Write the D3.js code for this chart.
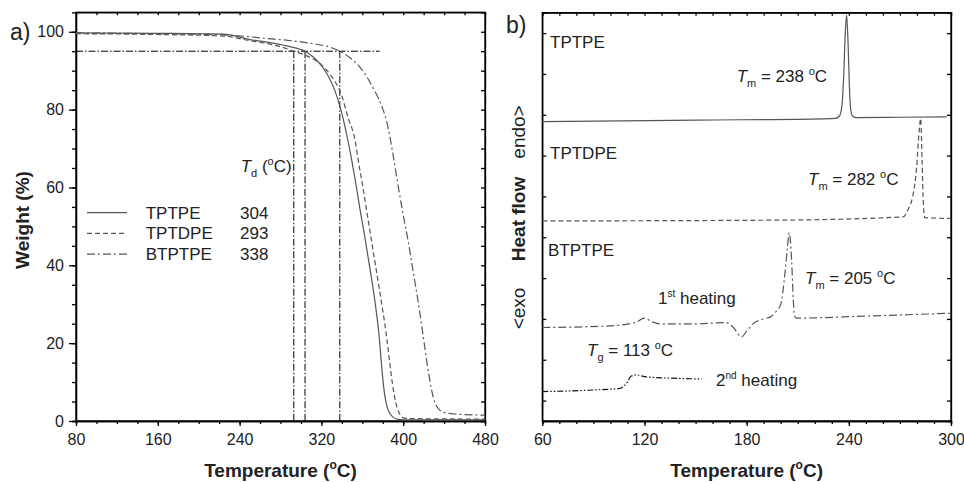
<!DOCTYPE html>
<html>
<head>
<meta charset="utf-8">
<script src="https://cdn.jsdelivr.net/npm/d3@7/dist/d3.min.js"></script>
<style>
  body { margin: 0; background: #fff; }
  svg { font-family: "Liberation Sans", Arial, sans-serif; }
  .axis path, .axis line { stroke: #000; stroke-width: 1.3; }
  .axis text { font-size: 16px; fill: #222; }
</style>
</head>
<body>
<div class="board"></div>
<script>
// TGA curves, [temperature, weight %]
var tgaTPTPE = [[80,99.7],[160,99.6],[224,99.4],[250,98.0],[265,97.4],[282,96.6],[299,95.5],[304,95],[312,93.5],[320,91.3],[327,88.5],[333,85],[339,80],[346,72],[350,66.5],[354,60.5],[358,54],[362,48],[366,41.5],[370,35],[373,29.5],[376,23],[378,17],[380,11],[382,6.5],[385,3],[390,1],[395,0.4],[400,0.3],[440,0.3],[480,0.3]];
var tgaTPTDPE = [[80,99.5],[160,99.3],[224,98.9],[250,97.7],[266,97],[282,96],[293,95],[304,94],[320,91.5],[330,88.5],[340,83.5],[346,78],[353,72],[356,67],[360,61],[364,54.5],[368,48],[372,41.5],[376,35],[379,30],[382,25],[385,19],[388,12.5],[391,7],[394,3.5],[397,1.6],[400,0.8],[410,0.6],[480,0.5]];
var tgaBTPTPE = [[80,99.7],[160,99.5],[224,99.2],[266,98.3],[300,97.4],[315,96.8],[330,95.9],[338,95],[348,93.3],[358,90.8],[365,88.2],[371,85.3],[376,82.8],[380,80.2],[384,76.8],[387,73],[390,68.5],[395,60.5],[400,53],[405,46],[410,38],[415,30],[420,21],[425,12],[430,5.5],[435,3],[440,2.2],[450,1.8],[480,1.5]];
var tgaNames = ['TPTPE', 'TPTDPE', 'BTPTPE'];
var tdValues = [304, 293, 338];
var tdLevel = 95;

// DSC curves, [temperature, heat flow (a.u.)]
var dscTPTPE = [[60,7.33],[150,7.37],[225,7.40],[232,7.41],[234.5,7.47],[236,7.74],[237,8.47],[238,9.58],[238.7,9.94],[239.5,9.33],[240.3,8.23],[241,7.67],[242,7.48],[244,7.43],[270,7.44],[297.5,7.45]];
var dscTPTDPE = [[60,4.90],[200,4.92],[272,5.0],[275,5.2],[277.5,5.5],[279.8,6.2],[281.3,7.1],[282.2,7.41],[283,6.4],[283.8,5.3],[284.6,4.98],[300,4.96]];
var dscBTPTPE1 = [[60,2.29],[100,2.33],[115,2.42],[120,2.52],[124,2.44],[129,2.38],[150,2.38],[168,2.41],[172,2.3],[177,2.06],[180,2.2],[184,2.39],[190,2.5],[194,2.55],[198,2.72],[200,2.85],[202.5,3.62],[203.8,4.19],[205,4.61],[206.4,3.94],[207.4,2.96],[208,2.6],[209,2.52],[210,2.52],[250,2.57],[300,2.64]];
var dscBTPTPE2 = [[60,0.72],[90,0.76],[105.5,0.80],[109.4,0.92],[112.3,1.10],[115.2,1.13],[121,1.08],[153.6,1.03]];

var leftTicks = [80, 160, 240, 320, 400, 480];
var weightTicks = [0, 20, 40, 60, 80, 100];
var rightTicks = [60, 120, 180, 240, 300];

var svg = d3.select('.board').append('svg')
  .attr('width', 964)
  .attr('height', 482);

var grey = '#555';
var dashes = ['none', '5,3', '8,3,2,3'];

// ---------- panel a) ----------
var xL = d3.scaleLinear().domain([80, 480]).range([76, 485]);
var yL = d3.scaleLinear().domain([0, 105]).range([421, 12.3]);

svg.append('rect')
  .attr('x', xL(80)).attr('y', yL(105))
  .attr('width', xL(480) - xL(80)).attr('height', yL(0) - yL(105))
  .attr('fill', 'none').attr('stroke', '#000').attr('stroke-width', 1.3);

svg.append('g').attr('class', 'axis')
  .attr('transform', 'translate(0,' + yL(0) + ')')
  .call(d3.axisBottom(xL).tickValues(d3.range(80, 481, 20)).tickSize(3).tickFormat(''));
svg.append('g').attr('class', 'axis')
  .attr('transform', 'translate(0,' + yL(0) + ')')
  .call(d3.axisBottom(xL).tickValues(leftTicks).tickSize(5).tickPadding(7.5).tickSizeOuter(0));
svg.append('g').attr('class', 'axis')
  .attr('transform', 'translate(' + xL(80) + ',0)')
  .call(d3.axisLeft(yL).tickValues(d3.range(0, 101, 5)).tickSize(4).tickFormat(''));
svg.append('g').attr('class', 'axis')
  .attr('transform', 'translate(' + xL(80) + ',0)')
  .call(d3.axisLeft(yL).tickValues(weightTicks).tickSize(7).tickPadding(5).tickSizeOuter(0));
svg.append('g').attr('class', 'axis')
  .attr('transform', 'translate(0,' + yL(105) + ')')
  .call(d3.axisTop(xL).tickValues(d3.range(80, 481, 20)).tickSize(-3).tickFormat(''));
svg.append('g').attr('class', 'axis')
  .attr('transform', 'translate(' + xL(480) + ',0)')
  .call(d3.axisRight(yL).tickValues(d3.range(0, 101, 5)).tickSize(-4).tickFormat(''));

// Td guide lines
var guide = '7,2,1.5,2';
svg.append('line')
  .attr('x1', xL(80)).attr('x2', xL(377))
  .attr('y1', yL(tdLevel)).attr('y2', yL(tdLevel))
  .attr('stroke', '#000').attr('stroke-width', 1).attr('stroke-dasharray', guide);
svg.selectAll('.tdline')
  .data(tdValues)
  .enter()
  .append('line')
  .attr('class', 'tdline')
  .attr('x1', function (d) { return xL(d); })
  .attr('x2', function (d) { return xL(d); })
  .attr('y1', yL(tdLevel)).attr('y2', yL(0))
  .attr('stroke', '#000').attr('stroke-width', 1).attr('stroke-dasharray', guide);

var lineL = d3.line()
  .x(function (d) { return xL(d[0]); })
  .y(function (d) { return yL(d[1]); })
  .curve(d3.curveMonotoneX);

svg.selectAll('.tga')
  .data([tgaTPTPE, tgaTPTDPE, tgaBTPTPE])
  .enter()
  .append('path')
  .attr('class', 'tga')
  .attr('d', lineL)
  .attr('fill', 'none')
  .attr('stroke', grey)
  .attr('stroke-width', 1.2)
  .attr('stroke-dasharray', function (d, i) { return dashes[i]; });

// legend
var leg = svg.selectAll('.leg')
  .data(tgaNames)
  .enter()
  .append('g')
  .attr('class', 'leg')
  .attr('transform', function (d, i) { return 'translate(0,' + (212.7 + i * 20.7) + ')'; });
leg.append('line')
  .attr('x1', 87).attr('x2', 127)
  .attr('stroke', grey).attr('stroke-width', 1.2)
  .attr('stroke-dasharray', function (d, i) { return dashes[i]; });
leg.append('text')
  .attr('x', 145.7).attr('y', 5.8)
  .style('font-size', '17px').attr('fill', '#222')
  .text(function (d) { return d; });
leg.append('text')
  .attr('x', 240).attr('y', 5.8)
  .style('font-size', '17px').attr('fill', '#222')
  .text(function (d, i) { return tdValues[i]; });

var td = svg.append('text').attr('x', 240.7).attr('y', 171.7).style('font-size', '17px').attr('fill', '#222');
td.append('tspan').style('font-style', 'italic').text('T');
td.append('tspan').attr('dy', 5).style('font-size', '11px').text('d');
td.append('tspan').attr('dy', -5).text(' (');
td.append('tspan').attr('dy', -7).style('font-size', '11px').text('o');
td.append('tspan').attr('dy', 7).text('C)');

svg.append('text').attr('x', 10).attr('y', 40)
  .style('font-size', '23px').attr('fill', '#222').text('a)');

svg.append('text')
  .attr('transform', 'translate(29,220) rotate(-90)')
  .attr('text-anchor', 'middle')
  .style('font-size', '19px').style('font-weight', 'bold').attr('fill', '#222')
  .text('Weight (%)');

var xtL = svg.append('text').attr('x', xL(280)).attr('y', 477)
  .attr('text-anchor', 'middle')
  .style('font-size', '19px').style('font-weight', 'bold').attr('fill', '#222');
xtL.append('tspan').text('Temperature (');
xtL.append('tspan').attr('dy', -8).style('font-size', '12px').text('o');
xtL.append('tspan').attr('dy', 8).text('C)');

// ---------- panel b) ----------
var xR = d3.scaleLinear().domain([60, 300]).range([542.3, 951]);
var yR = d3.scaleLinear().domain([0, 10]).range([421, 12.7]);

svg.append('rect')
  .attr('x', xR(60)).attr('y', yR(10))
  .attr('width', xR(300) - xR(60)).attr('height', yR(0) - yR(10))
  .attr('fill', 'none').attr('stroke', '#000').attr('stroke-width', 1.3);

svg.append('g').attr('class', 'axis')
  .attr('transform', 'translate(0,' + yR(0) + ')')
  .call(d3.axisBottom(xR).tickValues(d3.range(60, 301, 10)).tickSize(3).tickFormat(''));
svg.append('g').attr('class', 'axis')
  .attr('transform', 'translate(0,' + yR(0) + ')')
  .call(d3.axisBottom(xR).tickValues(rightTicks).tickSize(5).tickPadding(7.5).tickSizeOuter(0));
svg.append('g').attr('class', 'axis')
  .attr('transform', 'translate(0,' + yR(10) + ')')
  .call(d3.axisTop(xR).tickValues(d3.range(60, 301, 10)).tickSize(-3).tickFormat(''));
svg.append('g').attr('class', 'axis')
  .attr('transform', 'translate(' + xR(60) + ',0)')
  .call(d3.axisLeft(yR).tickValues(d3.range(0.5, 10, 1)).tickSize(-4).tickFormat(''));
svg.append('g').attr('class', 'axis')
  .attr('transform', 'translate(' + xR(300) + ',0)')
  .call(d3.axisRight(yR).tickValues(d3.range(0.5, 10, 1)).tickSize(-4).tickFormat(''));

var lineR = d3.line()
  .x(function (d) { return xR(d[0]); })
  .y(function (d) { return yR(d[1]); })
  .curve(d3.curveMonotoneX);

var dscSeries = [
  { data: dscTPTPE, dash: 'none', color: grey },
  { data: dscTPTDPE, dash: '5,3', color: grey },
  { data: dscBTPTPE1, dash: '8,3,2,3', color: grey },
  { data: dscBTPTPE2, dash: '6,2,1.5,2,1.5,2', color: '#111' }
];
svg.selectAll('.dsc')
  .data(dscSeries)
  .enter()
  .append('path')
  .attr('class', 'dsc')
  .attr('d', function (d) { return lineR(d.data); })
  .attr('fill', 'none')
  .attr('stroke', function (d) { return d.color; })
  .attr('stroke-width', 1.2)
  .attr('stroke-dasharray', function (d) { return d.dash; });

svg.append('text').attr('x', 506).attr('y', 33)
  .style('font-size', '23px').attr('fill', '#222').text('b)');

var plainLabel = function (x, y, txt) {
  svg.append('text').attr('x', x).attr('y', y)
    .style('font-size', '17px').attr('fill', '#222').text(txt);
};
plainLabel(550, 48, 'TPTPE');
plainLabel(550, 159, 'TPTDPE');
plainLabel(548, 256, 'BTPTPE');

var subLabel = function (x, y, sym, sub, rest) {
  var t = svg.append('text').attr('x', x).attr('y', y)
    .style('font-size', '17px').attr('fill', '#222');
  t.append('tspan').style('font-style', 'italic').text(sym);
  t.append('tspan').attr('dy', 5).style('font-size', '11px').text(sub);
  t.append('tspan').attr('dy', -5).text(rest);
  t.append('tspan').attr('dy', -7).style('font-size', '11px').text('o');
  t.append('tspan').attr('dy', 7).text('C');
};
subLabel(736.7, 81.7, 'T', 'm', ' = 238 ');
subLabel(808, 185, 'T', 'm', ' = 282 ');
subLabel(805, 284.3, 'T', 'm', ' = 205 ');
subLabel(587, 356, 'T', 'g', ' = 113 ');

var supLabel = function (x, y, num, sup) {
  var t = svg.append('text').attr('x', x).attr('y', y)
    .style('font-size', '17px').attr('fill', '#222');
  t.append('tspan').text(num);
  t.append('tspan').attr('dy', -7).style('font-size', '10px').text(sup);
  t.append('tspan').attr('dy', 7).text(' heating');
};
supLabel(658, 304.3, '1', 'st');
supLabel(716, 386, '2', 'nd');

// rotated heat flow label
svg.append('text')
  .attr('transform', 'translate(525,308.5) rotate(-90)')
  .attr('text-anchor', 'middle')
  .style('font-size', '19px').attr('fill', '#222').text('<exo');
svg.append('text')
  .attr('transform', 'translate(525,219) rotate(-90)')
  .attr('text-anchor', 'middle')
  .style('font-size', '19px').style('font-weight', 'bold').attr('fill', '#222').text('Heat flow');
svg.append('text')
  .attr('transform', 'translate(525,132) rotate(-90)')
  .attr('text-anchor', 'middle')
  .style('font-size', '19px').attr('fill', '#222').text('endo>');

var xtR = svg.append('text').attr('x', xR(180)).attr('y', 477)
  .attr('text-anchor', 'middle')
  .style('font-size', '19px').style('font-weight', 'bold').attr('fill', '#222');
xtR.append('tspan').text('Temperature  (');
xtR.append('tspan').attr('dy', -8).style('font-size', '12px').text('o');
xtR.append('tspan').attr('dy', 8).text('C)');
</script>
</body>
</html>
